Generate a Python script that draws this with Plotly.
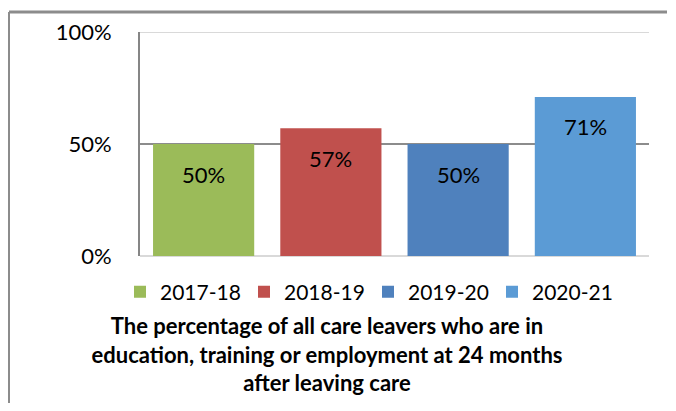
import plotly.graph_objects as go

years = ["2017-18", "2018-19", "2019-20", "2020-21"]
values = [50, 57, 50, 71]
labels = ["50%", "57%", "50%", "71%"]
colors = ["#9BBB59", "#C0504D", "#4F81BD", "#5B9BD5"]
y_ticks = [0, 50, 100]
y_tick_text = ["0%", "50%", "100%"]
title_text = ("The percentage of all care leavers who are in<br>"
              "education, training or employment at 24 months<br>"
              "after leaving care")

FONT = "Lato"
W, H = 660, 395
L, R, T, B = 132, 19, 24, 147
PW, PH = W - L - R, H - T - B


def px_x(x):
    return (x - L) / PW


def px_y(y):
    return (H - B - y) / PH


fig = go.Figure()
for yr, v, c in zip(years, values, colors):
    fig.add_trace(go.Bar(x=[yr], y=[v], name=yr, marker=dict(color=c, line=dict(width=0)),
                         hoverinfo="skip"))

for yr, v, t in zip(years, values, labels):
    fig.add_annotation(x=yr, y=v, text=t, showarrow=False, yanchor="middle",
                       yshift=-30, font=dict(family=FONT, size=22, color="#000000"))

# light top gridline (100%)
fig.add_shape(type="line", xref="paper", yref="y", x0=0, x1=1, y0=100, y1=100,
              line=dict(color="#D9D9D9", width=2), layer="above")
# outer frame (top and left)
fig.add_shape(type="line", xref="paper", yref="paper", x0=px_x(1), x1=px_x(1),
              y0=px_y(H), y1=px_y(4), line=dict(color="#8C8C8C", width=2))
fig.add_shape(type="line", xref="paper", yref="paper", x0=px_x(1), x1=px_x(W - 1),
              y0=px_y(4), y1=px_y(4), line=dict(color="#8C8C8C", width=3))

fig.update_layout(
    width=W, height=H,
    margin=dict(l=L, r=R, t=T, b=B, autoexpand=False),
    paper_bgcolor="white", plot_bgcolor="white",
    barmode="overlay", bargap=0.205,
    font=dict(family=FONT, size=22, color="#000000"),
    showlegend=True,
    legend=dict(orientation="h", x=px_x(112), xanchor="left", y=px_y(284), yanchor="middle",
                font=dict(family=FONT, size=21, color="#000000"),
                entrywidth=79, entrywidthmode="pixels",
                bgcolor="rgba(0,0,0,0)", itemclick=False, traceorder="normal"),
    title=dict(text="<b>" + title_text + "</b>", xref="paper", x=px_x(319), xanchor="center",
               yref="container", y=1 - 326 / H, yanchor="middle",
               font=dict(family=FONT, size=22, color="#000000")),
    xaxis=dict(showticklabels=False, showgrid=False, zeroline=False, showline=False,
               categoryorder="array", categoryarray=years, fixedrange=True),
    yaxis=dict(range=[0, 100], tickvals=y_ticks, ticktext=y_tick_text,
               showgrid=True, gridcolor="#8C8C8C", gridwidth=2,
               zeroline=True, zerolinecolor="#D9D9D9", zerolinewidth=2,
               showline=True, linecolor="#868686", linewidth=2,
               ticks="", ticklabelstandoff=22, fixedrange=True,
               tickfont=dict(family=FONT, size=22, color="#000000")),
)

fig.write_html("out.html")
